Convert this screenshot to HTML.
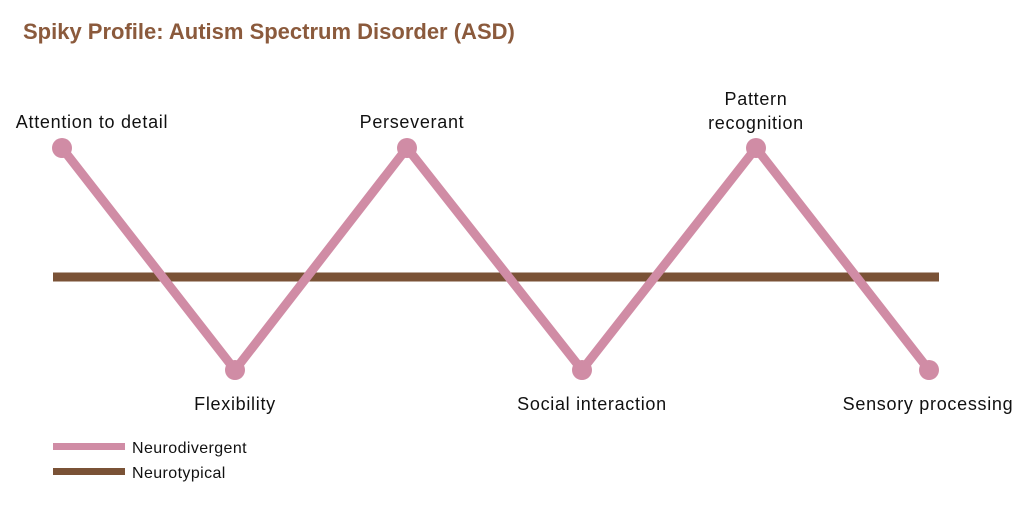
<!DOCTYPE html>
<html><head><style>body{margin:0;background:#fff}</style></head><body>
<svg width="1024" height="504" xmlns="http://www.w3.org/2000/svg" font-family="Liberation Sans, sans-serif">
<rect width="1024" height="504" fill="#fff"/>
<text x="23" y="39" font-size="22" font-weight="bold" fill="#8b5a3c">Spiky Profile: Autism Spectrum Disorder (ASD)</text>
<line x1="53" y1="277" x2="939" y2="277" stroke="#7a5236" stroke-width="9"/>
<polyline points="62,148 235,370 407,148 582,370 756,148 929,370" fill="none" stroke="#d08ca5" stroke-width="9" stroke-linejoin="round"/>
<g fill="#d08ca5">
<circle cx="62" cy="148" r="10"/><circle cx="235" cy="370" r="10"/><circle cx="407" cy="148" r="10"/>
<circle cx="582" cy="370" r="10"/><circle cx="756" cy="148" r="10"/><circle cx="929" cy="370" r="10"/>
</g>
<g font-size="18" fill="#111" text-anchor="middle" letter-spacing="0.7">
<text x="92" y="128">Attention to detail</text>
<text x="412" y="128">Perseverant</text>
<text x="756" y="105">Pattern</text>
<text x="756" y="129">recognition</text>
<text x="235" y="410">Flexibility</text>
<text x="592" y="410">Social interaction</text>
<text x="928" y="410">Sensory processing</text>
</g>
<rect x="53" y="443" width="72" height="7" fill="#d08ca5"/>
<rect x="53" y="468" width="72" height="7" fill="#7a5236"/>
<g font-size="16" fill="#111" letter-spacing="0.4">
<text x="132" y="453">Neurodivergent</text>
<text x="132" y="478">Neurotypical</text>
</g>
</svg>
</body></html>
